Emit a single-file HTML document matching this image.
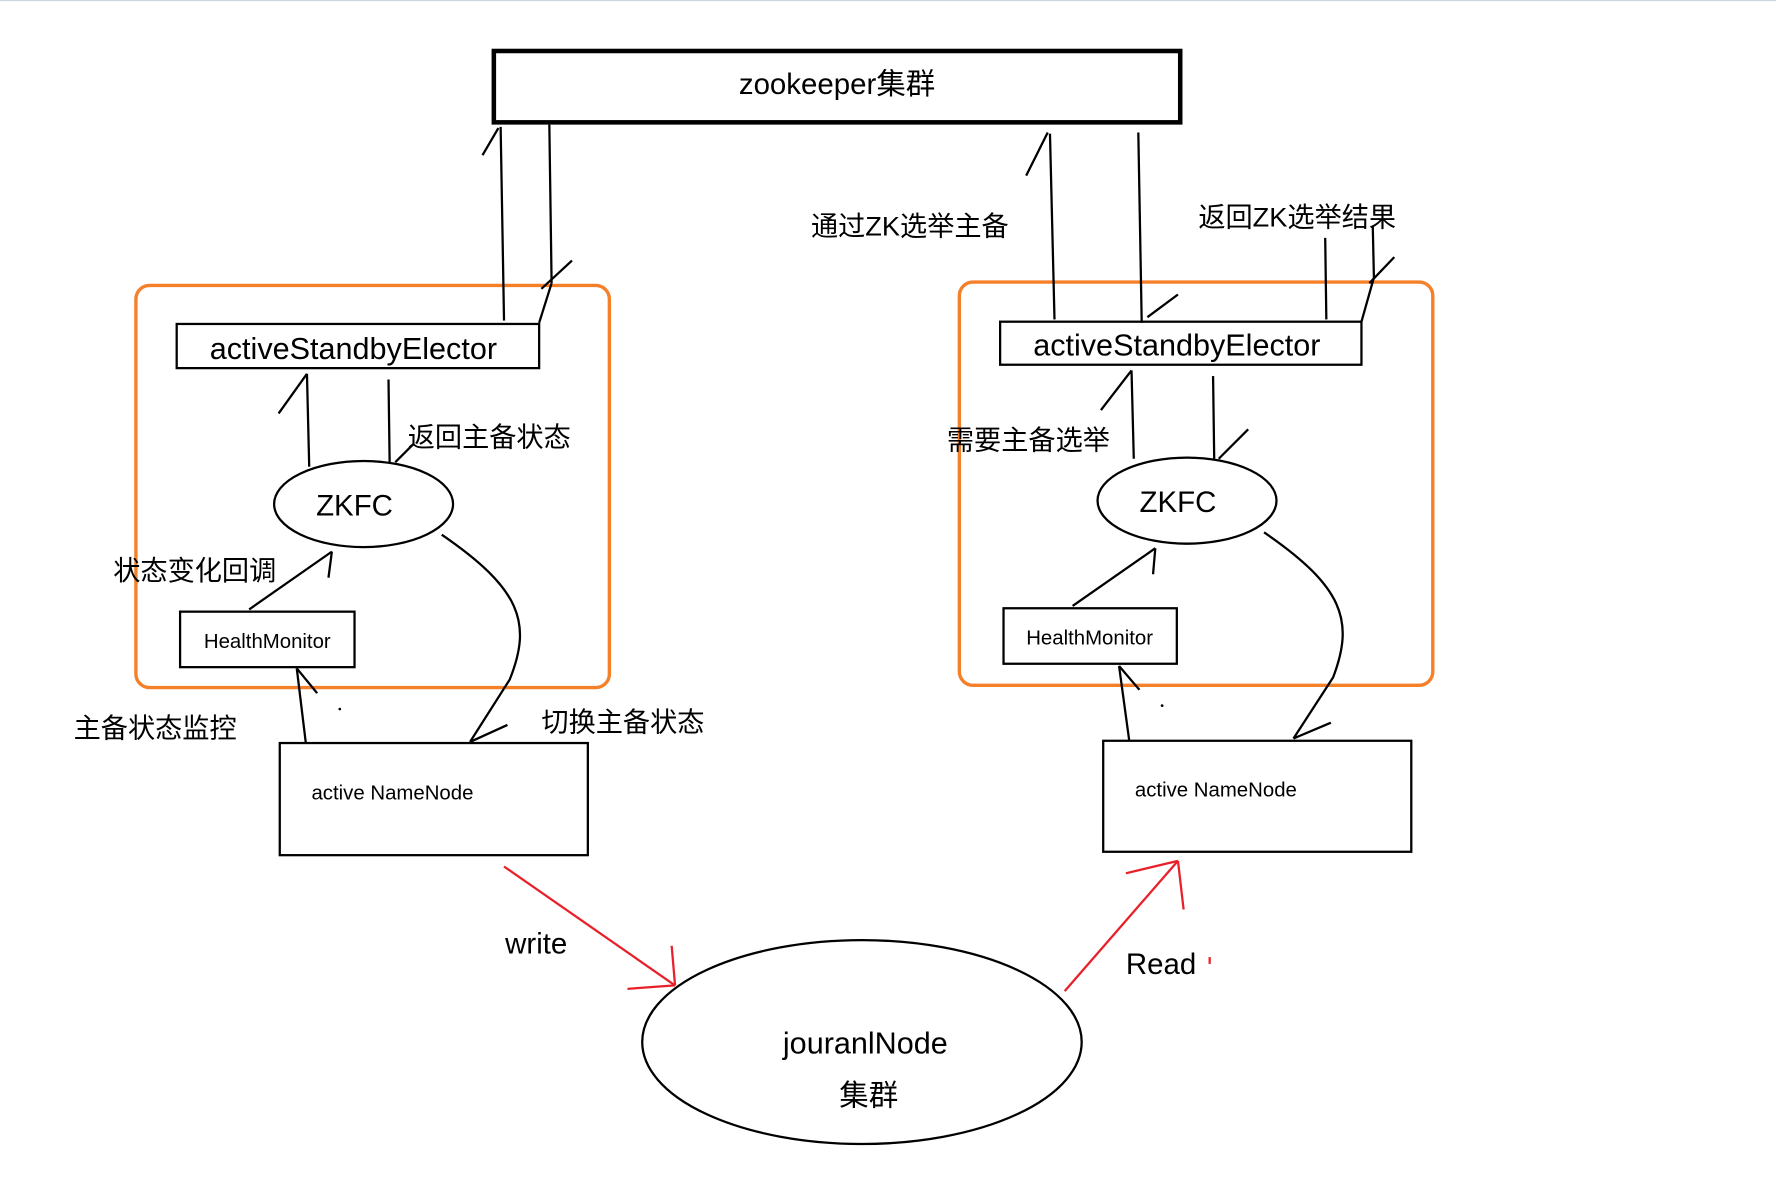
<!DOCTYPE html>
<html><head><meta charset="utf-8"><style>
html,body{margin:0;padding:0;background:#fff;}
svg{display:block;}
text{font-family:"Liberation Sans","Noto Sans CJK SC",sans-serif;fill:#000;}
</style></head><body>
<svg width="1776" height="1178" viewBox="0 0 1568 1040" xmlns="http://www.w3.org/2000/svg">
<rect width="1568" height="1040" fill="#fff"/>
<line x1="0" y1="0.5" x2="1568" y2="0.5" stroke="#c8d4e0" stroke-width="1"/>
<g fill="none" stroke="#000" stroke-width="2">
<rect x="436" y="45" width="606" height="63" stroke-width="4"/>
<!-- left -->
<rect x="120" y="252" width="418" height="355" rx="12" stroke="#f5802a" stroke-width="3"/>
<rect x="156" y="286" width="320" height="39"/>
<line x1="442" y1="112" x2="445" y2="283"/><line x1="426" y1="137" x2="440" y2="113"/>
<line x1="485" y1="110" x2="487" y2="250"/><line x1="487" y1="250" x2="476" y2="285"/><line x1="478" y1="255" x2="505" y2="230"/>
<line x1="271" y1="330" x2="273" y2="412"/><line x1="246" y1="365" x2="271" y2="330"/>
<line x1="343" y1="335" x2="344" y2="408"/><line x1="349" y1="408" x2="365" y2="392"/>
<ellipse cx="321" cy="445" rx="79" ry="38"/>
<path d="M390,472 C460,520 470,550 450,600 L415,655"/><line x1="415" y1="655" x2="448" y2="640"/>
<rect x="159" y="540" width="154" height="49"/>
<line x1="220" y1="538" x2="293" y2="487"/><line x1="290" y1="510" x2="293" y2="487"/>
<line x1="262" y1="590" x2="270" y2="656"/><line x1="262" y1="590" x2="280" y2="612"/>
<rect x="247" y="656" width="272" height="99"/>
<!-- right -->
<rect x="847" y="249" width="418" height="356" rx="12" stroke="#f5802a" stroke-width="3"/>
<rect x="883" y="284" width="319" height="38"/>
<line x1="927" y1="118" x2="931" y2="282"/><line x1="906" y1="155" x2="925" y2="117"/>
<line x1="1005" y1="117" x2="1008" y2="285"/><line x1="1013" y1="280" x2="1040" y2="260"/>
<line x1="1170" y1="210" x2="1171" y2="282"/>
<line x1="1212" y1="200" x2="1213" y2="245"/><line x1="1213" y1="245" x2="1202" y2="284"/><line x1="1209" y1="250" x2="1231" y2="227"/>
<line x1="999" y1="327" x2="1001" y2="405"/><line x1="972" y1="362" x2="999" y2="327"/>
<line x1="1071" y1="332" x2="1072" y2="405"/><line x1="1076" y1="405" x2="1102" y2="379"/>
<ellipse cx="1048" cy="442" rx="79" ry="38"/>
<path d="M1116,470 C1186,518 1196,548 1177,598 L1142,652"/><line x1="1142" y1="652" x2="1175" y2="638"/>
<rect x="886" y="537" width="153" height="49"/>
<line x1="947" y1="535" x2="1020" y2="484"/><line x1="1018" y1="507" x2="1020" y2="484"/>
<line x1="988" y1="588" x2="997" y2="654"/><line x1="988" y1="588" x2="1006" y2="609"/>
<rect x="974" y="654" width="272" height="98"/>
<ellipse cx="761" cy="920" rx="194" ry="90"/>
</g>
<g stroke="#e8202a" stroke-width="2" fill="none">
<line x1="445" y1="765" x2="596" y2="870"/><line x1="596" y1="870" x2="593" y2="835"/><line x1="596" y1="870" x2="554" y2="873"/>
<line x1="940" y1="875" x2="1040" y2="760"/><line x1="1040" y1="760" x2="994" y2="771"/><line x1="1040" y1="760" x2="1045" y2="803"/>
<line x1="1068" y1="845" x2="1068" y2="851"/>
</g>
<circle cx="300" cy="626" r="1.2" fill="#000"/><circle cx="1026" cy="623" r="1.2" fill="#000"/>
<text x="739" y="83" font-size="26" text-anchor="middle">zookeeper集群</text>
<text x="312" y="317" font-size="27" text-anchor="middle">activeStandbyElector</text>
<text x="1039" y="314" font-size="27" text-anchor="middle">activeStandbyElector</text>
<text x="313" y="455" font-size="26" text-anchor="middle">ZKFC</text>
<text x="1040" y="452" font-size="26" text-anchor="middle">ZKFC</text>
<text x="236" y="572" font-size="18" text-anchor="middle">HealthMonitor</text>
<text x="962" y="569" font-size="18" text-anchor="middle">HealthMonitor</text>
<text x="275" y="706" font-size="18">active NameNode</text>
<text x="1002" y="703" font-size="18">active NameNode</text>
<text x="360" y="394" font-size="24">返回主备状态</text>
<text x="100" y="512" font-size="24">状态变化回调</text>
<text x="65" y="651" font-size="24">主备状态监控</text>
<text x="478" y="646" font-size="24">切换主备状态</text>
<text x="716" y="208" font-size="24">通过ZK选举主备</text>
<text x="1058" y="200" font-size="24">返回ZK选举结果</text>
<text x="836" y="397" font-size="24">需要主备选举</text>
<text x="446" y="842" font-size="26">write</text>
<text x="994" y="860" font-size="26">Read</text>
<text x="764" y="930" font-size="27" text-anchor="middle">jouranlNode</text>
<text x="767" y="976" font-size="26" text-anchor="middle">集群</text>
</svg>
</body></html>
